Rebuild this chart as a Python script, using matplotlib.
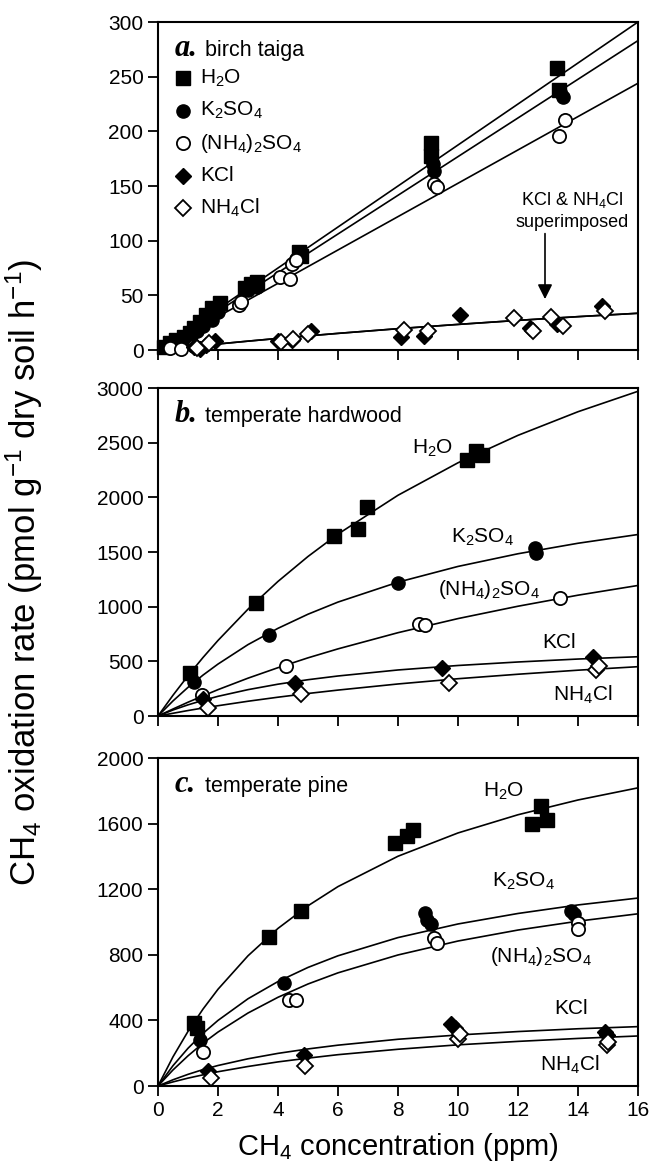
import matplotlib
matplotlib.use("Agg")
import matplotlib.pyplot as plt

plt.rcParams['font.family'] = ['Liberation Sans', 'DejaVu Sans']
plt.rcParams['mathtext.fontset'] = 'custom'
plt.rcParams['mathtext.rm'] = 'Liberation Sans'
plt.rcParams['mathtext.it'] = 'Liberation Sans:italic'
plt.rcParams['mathtext.bf'] = 'Liberation Sans:bold'

labels = ['H$_2$O', 'K$_2$SO$_4$', '(NH$_4$)$_2$SO$_4$', 'KCl', 'NH$_4$Cl']

# ---- panel a: birch taiga ----
a_h2o_x = [0.2, 0.4, 0.6, 0.85, 1.05, 1.2, 1.4, 1.6, 1.8, 2.05, 2.9, 3.1, 3.3, 4.7, 4.75, 9.1, 9.1, 13.3, 13.35]
a_h2o_y = [3, 6, 9, 12, 16, 20, 26, 32, 38, 43, 57, 60, 62, 90, 86, 189, 177, 258, 238]
a_k2so4_x = [0.3, 0.5, 0.7, 1.0, 1.3, 1.5, 1.8, 2.0, 3.0, 3.3, 4.6, 9.15, 9.2, 13.4, 13.5]
a_k2so4_y = [4, 6, 9, 13, 17, 22, 27, 35, 55, 58, 83, 170, 164, 236, 231]
a_nh4so4_x = [0.4, 0.75, 1.2, 2.7, 2.75, 4.05, 4.4, 4.45, 4.6, 9.2, 9.3, 13.35, 13.55]
a_nh4so4_y = [2, 1, 4, 41, 44, 67, 65, 79, 82, 152, 149, 196, 210]
a_kcl_x = [1.2, 1.4, 1.6, 1.9, 4.0, 4.45, 5.1, 8.1, 8.85, 10.05, 12.4, 13.3, 14.8]
a_kcl_y = [3, 1, 5, 8, 8, 9, 17, 12, 13, 32, 20, 24, 40]
a_nh4cl_x = [1.3, 1.7, 4.1, 4.5, 5.0, 8.2, 9.0, 11.85, 12.5, 13.1, 13.5, 14.9]
a_nh4cl_y = [2, 6, 7, 10, 15, 18, 17, 29, 17, 30, 22, 36]

# ---- panel b: temperate hardwood ----
b_h2o_x = [1.05, 3.25, 5.85, 6.65, 6.95, 10.3, 10.6, 10.8]
b_h2o_y = [390, 1030, 1650, 1710, 1915, 2345, 2420, 2385]
b_k2so4_x = [1.2, 3.7, 8.0, 12.55, 12.6]
b_k2so4_y = [310, 745, 1220, 1540, 1490]
b_nh4so4_x = [1.45, 4.25, 8.7, 8.9, 13.4]
b_nh4so4_y = [195, 460, 840, 830, 1075]
b_kcl_x = [1.5, 4.55, 9.45, 14.5]
b_kcl_y = [155, 305, 435, 540]
b_nh4cl_x = [1.65, 4.75, 9.7, 14.6, 14.7]
b_nh4cl_y = [75, 200, 305, 420, 455]

# ---- panel c: temperate pine ----
c_h2o_x = [1.2, 1.3, 3.7, 4.75, 7.9, 8.3, 8.5, 12.45, 12.75, 12.95]
c_h2o_y = [385, 355, 910, 1065, 1480, 1525, 1560, 1595, 1705, 1625]
c_k2so4_x = [1.4, 4.2, 8.9, 8.95, 9.1, 13.75, 13.85]
c_k2so4_y = [280, 630, 1055, 1010, 990, 1065, 1050]
c_nh4so4_x = [1.5, 4.35, 4.6, 9.2, 9.3, 14.0, 14.0]
c_nh4so4_y = [205, 525, 525, 900, 870, 995, 960]
c_kcl_x = [1.65, 4.85, 9.75, 9.9, 14.9, 14.95]
c_kcl_y = [90, 190, 380, 355, 330, 312]
c_nh4cl_x = [1.75, 4.9, 10.0, 10.05, 14.95, 15.0]
c_nh4cl_y = [50, 125, 285, 320, 250, 270]

# fitted curves
line_x = [0, 16]
curve_x = [0, 0.5, 1, 1.5, 2, 3, 4, 5, 6, 8, 10, 12, 14, 16]
a_fit_h2o = [0, 300]
a_fit_k2so4 = [0, 283]
a_fit_nh4so4 = [0, 244]
a_fit_cl = [0, 1.4, 2.8, 4.2, 5.5, 8.1, 10.6, 12.9, 15.2, 19.5, 23.4, 27.1, 30.5, 33.6]
b_fit_h2o = [0, 190, 368, 535, 691, 977, 1231, 1459, 1664, 2019, 2316, 2567, 2783, 2970]
b_fit_k2so4 = [0, 138, 262, 374, 475, 653, 802, 931, 1042, 1224, 1368, 1484, 1580, 1660]
b_fit_nh4so4 = [0, 64, 126, 184, 241, 346, 442, 532, 614, 762, 891, 1004, 1105, 1194]
b_fit_kcl = [0, 55, 102, 143, 180, 241, 291, 332, 366, 421, 462, 494, 521, 542]
b_fit_nh4cl = [0, 25, 50, 73, 94, 135, 172, 206, 237, 293, 341, 382, 419, 451]
c_fit_h2o = [0, 178, 333, 469, 590, 794, 961, 1099, 1216, 1401, 1543, 1654, 1744, 1818]
c_fit_k2so4 = [0, 124, 230, 321, 400, 532, 637, 723, 794, 905, 988, 1052, 1104, 1146]
c_fit_nh4so4 = [0, 98, 184, 261, 329, 445, 541, 622, 690, 799, 884, 951, 1005, 1050]
c_fit_kcl = [0, 38, 71, 100, 125, 166, 199, 226, 249, 285, 311, 332, 349, 362]
c_fit_nh4cl = [0, 25, 48, 68, 87, 119, 147, 170, 191, 224, 251, 272, 290, 305]

styles = [
    dict(marker='s', ms=9.5, mfc='k', mec='k'),
    dict(marker='o', ms=9.5, mfc='k', mec='k'),
    dict(marker='o', ms=9.5, mfc='w', mec='k', mew=1.3),
    dict(marker='D', ms=8.5, mfc='k', mec='k'),
    dict(marker='D', ms=8.5, mfc='w', mec='k', mew=1.3),
]


def draw_points(ax, xs, ys):
    # order: H2O, K2SO4, (NH4)2SO4, NH4Cl, KCl
    for i in [0, 1, 2, 4, 3]:
        ax.plot(xs[i], ys[i], ls='none', clip_on=False, zorder=3 + i * 0.1, **styles[i])


def setup(ax, ymax, step, show_x):
    ax.set_xlim(0, 16)
    ax.set_ylim(0, ymax)
    ax.set_xticks(range(0, 17, 2))
    ax.set_yticks(range(0, ymax + 1, step))
    ax.tick_params(direction='out', length=7, width=1.3, labelsize=15,
                   labelbottom=show_x, top=False, right=False)
    for s in ax.spines.values():
        s.set_linewidth(1.5)


def title(ax, letter, name):
    ax.text(0.035, 0.895, letter, transform=ax.transAxes, family='Liberation Serif',
            weight='bold', style='italic', fontsize=22, va='baseline')
    ax.text(0.098, 0.895, name, transform=ax.transAxes, fontsize=15.5, va='baseline')


fig = plt.figure(figsize=(6.55, 11.66), dpi=100)
left, width, height = 158 / 655, 480 / 655, 328 / 1166
ax_a = fig.add_axes([left, 1 - 350 / 1166, width, height])
ax_b = fig.add_axes([left, 1 - 716 / 1166, width, height])
ax_c = fig.add_axes([left, 1 - 1086 / 1166, width, height])

# panel a
for fit in [a_fit_h2o, a_fit_k2so4, a_fit_nh4so4]:
    ax_a.plot(line_x, fit, color='k', lw=1.2, zorder=2)
ax_a.plot(curve_x, a_fit_cl, color='k', lw=1.2, zorder=2)
ax_a.plot(curve_x, a_fit_cl, color='k', lw=1.2, zorder=2)
draw_points(ax_a, [a_h2o_x, a_k2so4_x, a_nh4so4_x, a_kcl_x, a_nh4cl_x],
            [a_h2o_y, a_k2so4_y, a_nh4so4_y, a_kcl_y, a_nh4cl_y])
setup(ax_a, 300, 50, False)
title(ax_a, 'a.', 'birch taiga')
legend_y = [0.829, 0.730, 0.631, 0.532, 0.433]
for i in range(5):
    ax_a.plot(0.052, legend_y[i], transform=ax_a.transAxes, ls='none', clip_on=False, **styles[i])
    ax_a.text(0.088, legend_y[i], labels[i], transform=ax_a.transAxes, fontsize=15, va='center')
ax_a.text(13.8, 137, 'KCl & NH$_4$Cl', ha='center', va='center', fontsize=13)
ax_a.text(13.8, 117, 'superimposed', ha='center', va='center', fontsize=13)
ax_a.annotate('', xy=(12.9, 44), xytext=(12.9, 109),
              arrowprops=dict(arrowstyle='-|>', color='k', lw=1.2, mutation_scale=22))

# panel b
for fit in [b_fit_h2o, b_fit_k2so4, b_fit_nh4so4, b_fit_kcl, b_fit_nh4cl]:
    ax_b.plot(curve_x, fit, color='k', lw=1.2, zorder=2)
draw_points(ax_b, [b_h2o_x, b_k2so4_x, b_nh4so4_x, b_kcl_x, b_nh4cl_x],
            [b_h2o_y, b_k2so4_y, b_nh4so4_y, b_kcl_y, b_nh4cl_y])
setup(ax_b, 3000, 500, False)
title(ax_b, 'b.', 'temperate hardwood')
b_lab_pos = [(8.46, 2452), (9.77, 1630), (9.35, 1157), (12.82, 670), (13.18, 198)]
for lab, (x, y) in zip(labels, b_lab_pos):
    ax_b.text(x, y, lab, fontsize=15, va='center')

# panel c
for fit in [c_fit_h2o, c_fit_k2so4, c_fit_nh4so4, c_fit_kcl, c_fit_nh4cl]:
    ax_c.plot(curve_x, fit, color='k', lw=1.2, zorder=2)
draw_points(ax_c, [c_h2o_x, c_k2so4_x, c_nh4so4_x, c_kcl_x, c_nh4cl_x],
            [c_h2o_y, c_k2so4_y, c_nh4so4_y, c_kcl_y, c_nh4cl_y])
setup(ax_c, 2000, 400, True)
title(ax_c, 'c.', 'temperate pine')
c_lab_pos = [(10.83, 1797), (11.13, 1248), (11.07, 790), (13.22, 474), (12.75, 128)]
for lab, (x, y) in zip(labels, c_lab_pos):
    ax_c.text(x, y, lab, fontsize=15, va='center')

ax_c.set_xlabel('CH$_4$ concentration (ppm)', fontsize=21, labelpad=8)
fig.text(0.037, 0.24, 'CH$_4$ oxidation rate (pmol g$^{-1}$ dry soil h$^{-1}$)',
         rotation=90, ha='center', va='bottom', fontsize=25)

fig.savefig('out.png', dpi=100)
